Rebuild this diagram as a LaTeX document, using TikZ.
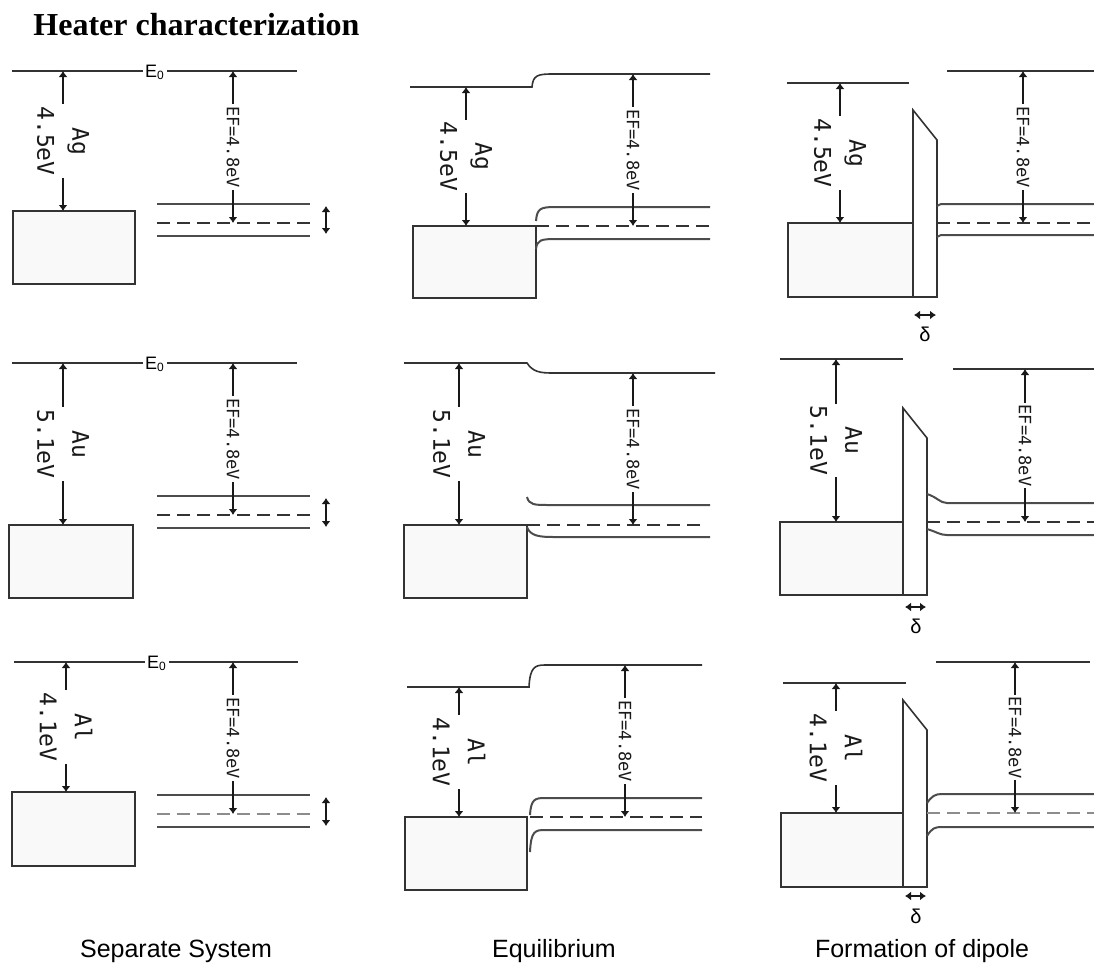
\documentclass[tikz,border=0pt]{standalone}
\usepackage{fontspec}
\setmainfont{Liberation Serif}
\newfontfamily\wffont{DejaVu Sans Mono}
\newfontfamily\captfont{Liberation Sans}
\usetikzlibrary{arrows.meta}
\tikzstyle{level}=[draw=black!80,line width=0.8pt]
\tikzstyle{band}=[draw=black!70,line width=1pt]
\tikzstyle{fermi}=[draw=black!80,line width=0.8pt,dash pattern=on 6.5pt off 3.5pt]
\tikzstyle{fermigray}=[draw=black!45,line width=1pt,dash pattern=on 6.5pt off 3.5pt]
\tikzstyle{metal}=[draw=black!80,fill=gray!5,line width=0.8pt]
\tikzstyle{dipole}=[draw=black!80,fill=white,line width=0.8pt]
\tikzstyle{gap}=[black!90,line width=0.7pt,<->]
\tikzstyle{wlabel}=[fill=white,rotate=-90,align=center,inner sep=1pt,font=\wffont\fontsize{11.5}{17.5}\selectfont]
\tikzstyle{eflabel}=[fill=white,rotate=-90,inner sep=1pt,font=\wffont\fontsize{8.5}{10}\selectfont]
\tikzstyle{vaclabel}=[fill=white,inner sep=1pt,font=\captfont\fontsize{9}{10}\selectfont]
\tikzstyle{deltalabel}=[inner sep=0pt,font=\captfont\fontsize{10}{12}\selectfont]
\tikzstyle{caption}=[anchor=base,font=\captfont\fontsize{12.5}{15}\selectfont]
\newcommand{\pxunit}{0.5pt}

\begin{document}
\begin{tikzpicture}[x=\pxunit,y=-\pxunit,>={Latex[length=3pt,width=4.5pt]}]
    \useasboundingbox (0,0) rectangle (1094,964);
    \node[anchor=base west,inner sep=0pt,font=\bfseries\fontsize{16}{19}\selectfont] (title) at (33,35) {Heater characterization};

% Ag, separate system
    \draw[level] (12,71) -- (297,71);
    \node[vaclabel] (e0ag) at (155,72) {E\textsubscript{0}};
    \filldraw[metal] (13,211) rectangle (135,284);
    \draw[band] (157,204) -- (310,204) (157,236) -- (310,236);
    \draw[fermi] (157,223) -- (310,223);
    \coordinate (sAgV) at (63,71);   \coordinate (sAgM) at (63,211);
    \coordinate (sAgE) at (233,71);  \coordinate (sAgF) at (233,223);
    \coordinate (sAgU) at (326,206); \coordinate (sAgL) at (326,234);
    \draw[gap] (sAgV) -- node[wlabel] {Ag\\4.5eV} (sAgM);
    \draw[gap] (sAgE) -- node[eflabel] {EF=4.8eV} (sAgF);
    \draw[gap] (sAgU) -- (sAgL);

% Au, separate system
    \draw[level] (12,363) -- (297,363);
    \node[vaclabel] (e0au) at (155,364) {E\textsubscript{0}};
    \filldraw[metal] (9,525) rectangle (133,598);
    \draw[band] (157,496) -- (310,496) (157,528) -- (310,528);
    \draw[fermi] (157,515) -- (310,515);
    \coordinate (sAuV) at (63,363);  \coordinate (sAuM) at (63,525);
    \coordinate (sAuE) at (233,363); \coordinate (sAuF) at (233,515);
    \coordinate (sAuU) at (326,498); \coordinate (sAuL) at (326,527);
    \draw[gap] (sAuV) -- node[wlabel] {Au\\5.1eV} (sAuM);
    \draw[gap] (sAuE) -- node[eflabel] {EF=4.8eV} (sAuF);
    \draw[gap] (sAuU) -- (sAuL);

% Al, separate system
    \draw[level] (14,662) -- (298,662);
    \node[vaclabel] (e0al) at (157,663) {E\textsubscript{0}};
    \filldraw[metal] (12,792) rectangle (135,866);
    \draw[band] (157,795) -- (310,795) (157,827) -- (310,827);
    \draw[fermigray] (157,814) -- (310,814);
    \coordinate (sAlV) at (66,662);  \coordinate (sAlM) at (66,792);
    \coordinate (sAlE) at (233,662); \coordinate (sAlF) at (233,814);
    \coordinate (sAlU) at (326,797); \coordinate (sAlL) at (326,826);
    \draw[gap] (sAlV) -- node[wlabel] {Al\\4.1eV} (sAlM);
    \draw[gap] (sAlE) -- node[eflabel] {EF=4.8eV} (sAlF);
    \draw[gap] (sAlU) -- (sAlL);

% Ag, equilibrium
    \draw[level] (410,87) -- (532,87) .. controls (533,75) and (538,74) .. (553,74) -- (710,74);
    \filldraw[metal] (413,226) rectangle (536,298);
    \draw[band] (536,221) .. controls (537,208) and (541,207) .. (556,207) -- (710,207);
    \draw[band] (536,249) .. controls (537,240) and (541,239) .. (556,239) -- (710,239);
    \draw[fermi] (536,226) -- (710,226);
    \coordinate (eAgV) at (466,87);  \coordinate (eAgM) at (466,226);
    \coordinate (eAgE) at (633,74);  \coordinate (eAgF) at (633,226);
    \draw[gap] (eAgV) -- node[wlabel] {Ag\\4.5eV} (eAgM);
    \draw[gap] (eAgE) -- node[eflabel] {EF=4.8eV} (eAgF);

% Au, equilibrium
    \draw[level] (404,363) -- (527,363) .. controls (533,372) and (540,373) .. (553,373) -- (715,373);
    \filldraw[metal] (404,525) rectangle (527,598);
    \draw[band] (527,497) .. controls (529,505) and (535,505) .. (548,505) -- (710,505);
    \draw[band] (527,527) .. controls (530,536) and (540,537) .. (553,537) -- (710,537);
    \draw[fermi] (527,525) -- (707,525);
    \coordinate (eAuV) at (459,363); \coordinate (eAuM) at (459,525);
    \coordinate (eAuE) at (633,373); \coordinate (eAuF) at (633,525);
    \draw[gap] (eAuV) -- node[wlabel] {Au\\5.1eV} (eAuM);
    \draw[gap] (eAuE) -- node[eflabel] {EF=4.8eV} (eAuF);

% Al, equilibrium
    \draw[level] (407,687) -- (529,687) .. controls (530,667) and (535,665) .. (545,665) -- (702,665);
    \filldraw[metal] (405,817) rectangle (527,890);
    \draw[band] (530,815) .. controls (531,799) and (535,798) .. (545,798) -- (702,798);
    \draw[band] (530,852) .. controls (531,831) and (535,830) .. (545,830) -- (702,830);
    \draw[fermi] (530,817) -- (702,817);
    \coordinate (eAlV) at (459,687); \coordinate (eAlM) at (459,817);
    \coordinate (eAlE) at (625,665); \coordinate (eAlF) at (625,817);
    \draw[gap] (eAlV) -- node[wlabel] {Al\\4.1eV} (eAlM);
    \draw[gap] (eAlE) -- node[eflabel] {EF=4.8eV} (eAlF);

% Ag, dipole
    \draw[level] (787,83) -- (909,83) (947,71) -- (1094,71);
    \filldraw[metal] (788,223) rectangle (913,297);
    \filldraw[dipole] (913,297) -- (913,110) -- (937,140) -- (937,297) -- cycle;
    \draw[band] (937,206) .. controls (940,204) .. (947,204) -- (1094,204);
    \draw[band] (937,237) .. controls (940,235) .. (947,235) -- (1094,235);
    \draw[fermi] (937,223) -- (1094,223);
    \coordinate (dAgV) at (840,83);  \coordinate (dAgM) at (840,223);
    \coordinate (dAgE) at (1023,71); \coordinate (dAgF) at (1023,223);
    \coordinate (dAgL) at (914,315); \coordinate (dAgR) at (936,315);
    \draw[gap] (dAgV) -- node[wlabel] {Ag\\4.5eV} (dAgM);
    \draw[gap] (dAgE) -- node[eflabel] {EF=4.8eV} (dAgF);
    \draw[gap] (dAgL) -- (dAgR);
    \node[deltalabel] (dAgD) at (925,334) {δ};

% Au, dipole
    \draw[level] (780,359) -- (903,359) (953,369) -- (1094,369);
    \filldraw[metal] (780,522) rectangle (903,595);
    \filldraw[dipole] (903,595) -- (903,408) -- (927,438) -- (927,595) -- cycle;
    \draw[band] (927,494) .. controls (937,497) and (940,503) .. (947,503) -- (1094,503);
    \draw[band] (927,529) .. controls (937,532) and (940,535) .. (947,535) -- (1094,535);
    \draw[fermi] (927,522) -- (1094,522);
    \coordinate (dAuV) at (836,359);  \coordinate (dAuM) at (836,522);
    \coordinate (dAuE) at (1025,369); \coordinate (dAuF) at (1025,522);
    \coordinate (dAuL) at (905,607);  \coordinate (dAuR) at (926,607);
    \draw[gap] (dAuV) -- node[wlabel] {Au\\5.1eV} (dAuM);
    \draw[gap] (dAuE) -- node[eflabel] {EF=4.8eV} (dAuF);
    \draw[gap] (dAuL) -- (dAuR);
    \node[deltalabel] (dAuD) at (916,626) {δ};

% Al, dipole
    \draw[level] (783,683) -- (906,683) (936,662) -- (1090,662);
    \filldraw[metal] (781,813) rectangle (903,887);
    \filldraw[dipole] (903,887) -- (903,700) -- (927,730) -- (927,887) -- cycle;
    \draw[band] (927,803) .. controls (932,796) and (935,794) .. (942,794) -- (1094,794);
    \draw[band] (927,836) .. controls (932,828) and (935,827) .. (942,827) -- (1094,827);
    \draw[fermigray] (927,813) -- (1094,813);
    \coordinate (dAlV) at (836,683);  \coordinate (dAlM) at (836,813);
    \coordinate (dAlE) at (1015,662); \coordinate (dAlF) at (1015,813);
    \coordinate (dAlL) at (905,896);  \coordinate (dAlR) at (926,896);
    \draw[gap] (dAlV) -- node[wlabel] {Al\\4.1eV} (dAlM);
    \draw[gap] (dAlE) -- node[eflabel] {EF=4.8eV} (dAlF);
    \draw[gap] (dAlL) -- (dAlR);
    \node[deltalabel] (dAlD) at (916,916) {δ};

    \node[caption] (capsep) at (176,957) {Separate System};
    \node[caption] (capeq) at (554,957) {Equilibrium};
    \node[caption] (capdip) at (922,957) {Formation of dipole};
\end{tikzpicture}
\end{document}
